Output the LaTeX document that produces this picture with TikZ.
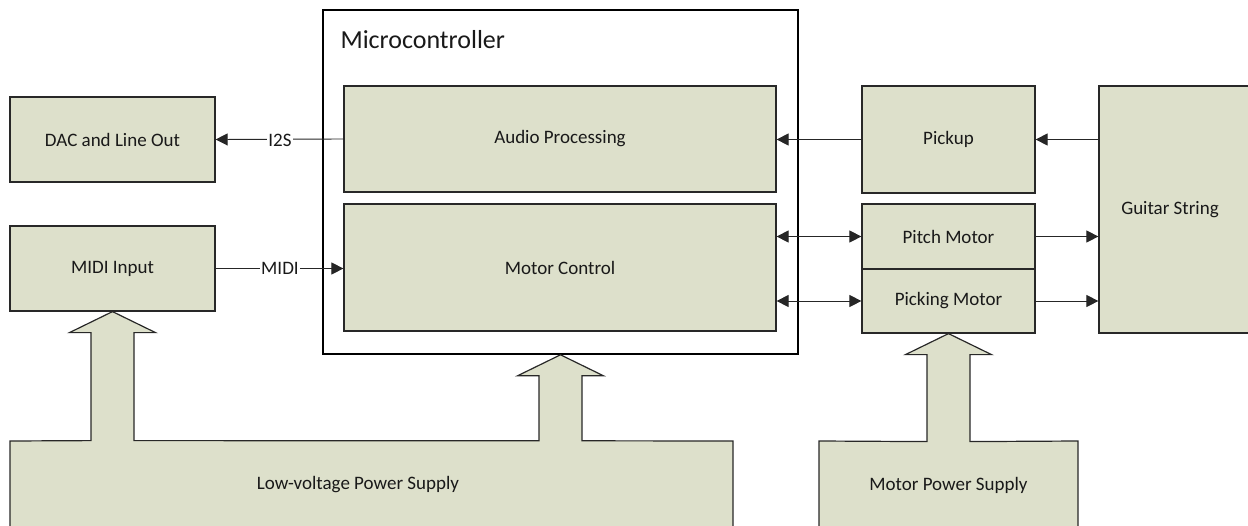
\documentclass[tikz,border=0pt]{standalone}
\usepackage{fontspec}
\setmainfont{Carlito}
\usetikzlibrary{arrows.meta,calc}
\definecolor{boxfill}{RGB}{221,224,203}
\definecolor{edge}{RGB}{40,40,40}
\tikzset{
  box/.style={draw=edge, line width=1.2pt, fill=boxfill, rectangle, inner sep=0pt, font=\fontsize{19}{22}\selectfont, text=black!90},
  frame/.style={draw=black, line width=1.6pt, fill=white, rectangle, inner sep=0pt},
  conn/.style={draw=black!85, line width=0.9pt},
  tip/.style={-{Triangle[length=12pt,width=12pt]}},
  both/.style={{Triangle[length=12pt,width=12pt]}-{Triangle[length=12pt,width=12pt]}},
  lbl/.style={fill=white, inner sep=1pt, font=\fontsize{19}{22}\selectfont, text=black!90},
  supply/.style={draw=edge, line width=1.2pt, fill=boxfill},
  supplytext/.style={font=\fontsize{19}{22}\selectfont, text=black!90}
}
\begin{document}
\begin{tikzpicture}[x=1pt,y=-1pt]
\useasboundingbox (0,0) rectangle (1248,525);
\clip (0,0) rectangle (1248,525);
% microcontroller frame
\node[frame, minimum width=475, minimum height=344] (mcu) at (560.5,182) {};
\node[anchor=west, font=\fontsize{26}{30}\selectfont, text=black!90] (mcutitle) at (337,40) {Microcontroller};
% boxes
\node[box, minimum width=205, minimum height=85] (dac) at (112.5,139.5) {DAC and Line Out};
\node[box, minimum width=205, minimum height=85] (midi) at (112.5,268.5) {MIDI Input};
\node[box, minimum width=432, minimum height=106] (audio) at (560,139) {Audio Processing};
\node[box, minimum width=432, minimum height=127] (motor) at (560,267.5) {Motor Control};
\node[box, minimum width=173, minimum height=107] (pickup) at (948.5,139.5) {Pickup};
\node[box, minimum width=173, minimum height=65] (pitch) at (948.5,236.5) {Pitch Motor};
\node[box, minimum width=173, minimum height=64] (picking) at (948.5,301) {Picking Motor};
\node[box, minimum width=153, minimum height=247] (guitar) at (1175.5,209.5) {};
\node[supplytext] (guitartext) at (1170,209.5) {Guitar String};
% connectors
\draw[conn, tip] (audio.west) -- (dac.east);
\node[lbl] (i2slbl) at (280,140) {I2S};
\draw[conn, tip] (midi.east) -- (midi.east -| motor.west);
\node[lbl] (midilbl) at (280,268.5) {MIDI};
\draw[conn, tip] (pickup.west) -- (pickup.west -| audio.east);
\draw[conn, tip] (guitar.west |- pickup.east) -- (pickup.east);
\draw[conn, both] (pitch.west -| motor.east) -- (pitch.west);
\draw[conn, both] (picking.west -| motor.east) -- (picking.west);
\draw[conn, tip] (pitch.east) -- (pitch.east -| guitar.west);
\draw[conn, tip] (picking.east) -- (picking.east -| guitar.west);
% low-voltage supply with two block arrows
\coordinate (t1) at (midi.south);
\coordinate (t2) at (mcu.south);
\path[supply] (10,540) -- (10,441)
  -- ($(t1)+(-21.5,129)$) -- ($(t1)+(-21.5,21)$) -- ($(t1)+(-43,21)$) -- (t1)
  -- ($(t1)+(43,21)$) -- ($(t1)+(21.5,21)$) -- ($(t1)+(21.5,129)$)
  -- ($(t2)+(-21.5,86)$) -- ($(t2)+(-21.5,21)$) -- ($(t2)+(-43,21)$) -- (t2)
  -- ($(t2)+(43,21)$) -- ($(t2)+(21.5,21)$) -- ($(t2)+(21.5,86)$)
  -- (733,441) -- (733,540);
\node[supplytext] (lvps) at (358,485) {Low-voltage Power Supply};
% motor supply
\coordinate (t3) at (picking.south);
\path[supply] (819,540) -- (819,441)
  -- ($(t3)+(-21.5,108)$) -- ($(t3)+(-21.5,21)$) -- ($(t3)+(-43,21)$) -- (t3)
  -- ($(t3)+(43,21)$) -- ($(t3)+(21.5,21)$) -- ($(t3)+(21.5,108)$)
  -- (1078,441) -- (1078,540);
\node[supplytext] (mps) at (948.5,485) {Motor Power Supply};
\end{tikzpicture}
\end{document}
